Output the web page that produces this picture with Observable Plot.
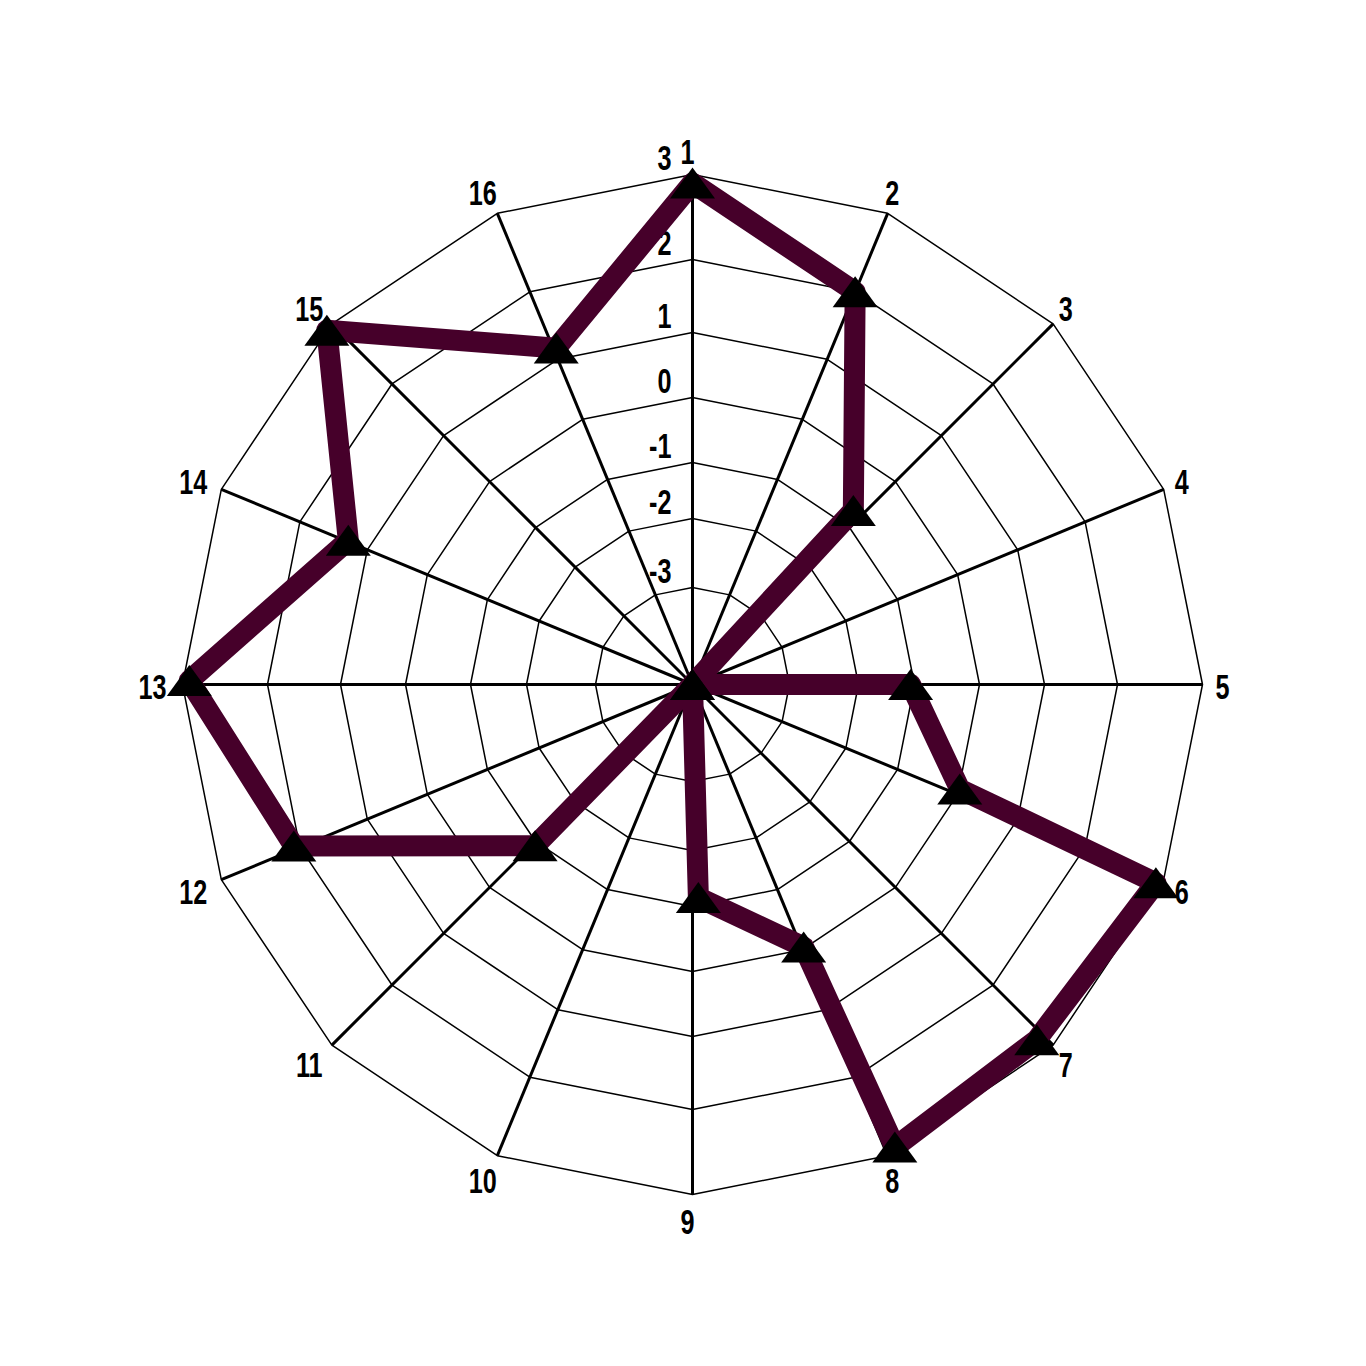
<!DOCTYPE html>
<html>
<head>
<meta charset="utf-8">
<script src="https://cdn.jsdelivr.net/npm/d3@7"></script>
<script src="https://cdn.jsdelivr.net/npm/@observablehq/plot@0.6"></script>
<style>
  html, body { margin: 0; padding: 0; background: #fff; overflow: hidden; }
  #chart svg { display: block; }
</style>
</head>
<body>
<div id="chart"></div>
<script>
// ---- data ----
const categories = ["1","2","3","4","5","6","7","8","9","10","11","12","13","14","15","16"];
const tickValues = [-3, -2, -1, 0, 1, 2, 3];
const radialMin = -4.5;
// position of each point along the category ring (1 = axis "1", clockwise)
const pointPositions = [1, 2, 2.9, 4, 5, 5.95, 6.03, 7.04, 7.95, 7.98, 8.93, 10, 10.97, 12.02, 13.02, 14.01, 14.96, 16.02];
const pointValues    = [2.9, 2.0, -0.77, -4.5, -1.07, 0.0, 2.93, 2.82, 2.94, -0.03, -1.16, -4.5, -0.95, 2.06, 2.92, 1.29, 2.99, 1.15];

// ---- radial + angular helpers ----
const radius = d3.scaleLinear()
  .domain([radialMin, ...tickValues])
  .range([0, 97, 166, 222, 287, 352, 425, 510]);
const nAxes = categories.length;
const angleOf = pos => (pos - 1) * 2 * Math.PI / nAxes;
const polarX = (pos, r) => r * Math.sin(angleOf(pos));
const polarY = (pos, r) => r * Math.cos(angleOf(pos));
const outerR = radius(tickValues[tickValues.length - 1]);

const points = pointPositions.map((p, i) => ({pos: p, value: pointValues[i]}));
const rings = tickValues.flatMap(t => categories.map((c, i) => ({t, pos: i + 1})));
const spokes = categories.map((c, i) => ({label: c, pos: i + 1}));
const labelOffset = 25;

const triangle = {
  draw(context) {
    const w = 22.5, h = 15.5;
    context.moveTo(0, -h);
    context.lineTo(w, h);
    context.lineTo(-w, h);
    context.closePath();
  }
};

const FONT = "'Liberation Sans', Arial, 'DejaVu Sans', sans-serif";

const chart = Plot.plot({
  width: 1366,
  height: 1366,
  margin: 0,
  style: {background: "white", fontFamily: FONT},
  x: {type: "linear", domain: [-600, 600], range: [92, 1292], axis: null},
  y: {type: "linear", domain: [-600, 600], range: [1284, 84], axis: null},
  marks: [
    Plot.line(rings, {
      x: d => polarX(d.pos, radius(d.t)),
      y: d => polarY(d.pos, radius(d.t)),
      z: "t", curve: "linear-closed",
      stroke: "black", strokeWidth: 1.5, fill: "none"
    }),
    Plot.link(spokes, {
      x1: () => 0, y1: () => 0,
      x2: d => polarX(d.pos, outerR),
      y2: d => polarY(d.pos, outerR),
      stroke: "black", strokeWidth: 3
    }),
    Plot.text(spokes, {
      x: d => polarX(d.pos, outerR + labelOffset),
      y: d => polarY(d.pos, outerR + labelOffset),
      text: "label", dx: -5, dy: 3,
      fontSize: 36, fontWeight: "bold", fill: "black"
    }),
    Plot.text(tickValues, {
      x: () => 0, y: t => radius(t),
      text: t => String(t), textAnchor: "end", dx: -21, dy: -16,
      fontSize: 36, fontWeight: "bold", fill: "black"
    }),
    Plot.line(points, {
      x: d => polarX(d.pos, radius(d.value)),
      y: d => polarY(d.pos, radius(d.value)),
      curve: "linear-closed",
      stroke: "#46002a", strokeWidth: 21,
      strokeLinejoin: "round", strokeLinecap: "round"
    }),
    Plot.dot(points, {
      x: d => polarX(d.pos, radius(d.value)),
      y: d => polarY(d.pos, radius(d.value)),
      symbol: triangle, fill: "black"
    })
  ]
});

// narrow (condensed) lettering, as in the reference: append a horizontal squeeze
chart.querySelectorAll("text").forEach(t => {
  const tr = t.getAttribute("transform") || "";
  t.setAttribute("transform", (tr + " scale(0.7,1)").trim());
});

document.getElementById("chart").appendChild(chart);
</script>
</body>
</html>
